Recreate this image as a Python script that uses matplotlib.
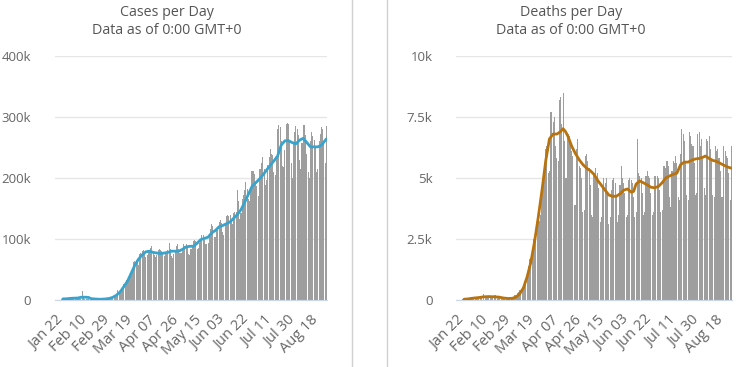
import matplotlib.pyplot as plt
from matplotlib.lines import Line2D
import numpy as np

plt.rcParams['font.family'] = ['Open Sans', 'DejaVu Sans']

# Dados diários (em milhares), 22 Jan a 31 Ago
casos = [
    0.55, 0.1, 0.28, 0.49, 0.68, 0.81, 2.65, 0.59, 2.07, 1.69,
    2.1, 2.6, 3.0, 3.9, 3.7, 3.2, 3.4, 2.7, 3.0, 2.5, 2.0, 0.4, 15.1, 6.5, 2.1, 2.1, 2.0, 1.9, 0.5,
    0.6, 1.0, 1.4, 0.4, 0.5, 0.9, 0.9, 1.1, 1.4, 1.8,
    2.3, 1.9, 2.5, 2.3, 2.8, 3.9, 4.0, 3.9, 3.9, 4.5, 7.5, 8.0, 16.0, 11.1, 13.6, 15.6, 17.5, 26.6,
    30.0, 33.0, 32.0, 34.0, 41.0, 43.0, 50.0, 62.0, 64.0, 65.0, 60.0, 58.0, 75.0,
    77, 80, 82, 79, 70, 73, 81, 82, 85, 88, 77, 73, 71, 73, 82, 84, 82, 81, 76, 72,
    76, 78, 82, 93, 84, 72, 69, 75, 78, 88,
    91, 83, 77, 77, 81, 92, 89, 91, 87, 75, 73, 84, 89, 96, 99, 96, 84, 86, 94, 100,
    106, 107, 98, 91, 91, 93, 105, 117, 124, 122, 104,
    104, 113, 120, 128, 131, 127, 111, 106, 125, 137, 139, 138, 140, 129, 124, 143, 144, 144, 180, 163,
    133, 142, 165, 172, 181, 193, 182, 166, 162, 178,
    212, 212, 206, 193, 187, 170, 214, 214, 225, 235, 215, 189, 197, 222, 234, 247, 240, 238, 210, 205,
    236, 280, 287, 284, 260, 220, 218, 246, 289, 290, 289,
    260, 225, 200, 255, 275, 285, 280, 270, 230, 215, 258, 287, 287, 270, 240, 210, 200, 260, 275, 268,
    262, 250, 210, 215, 260, 272, 283, 280, 255, 225, 285,
]

mortes = [
    0.017, 0.001, 0.008, 0.016, 0.014, 0.026, 0.049, 0.002, 0.038, 0.042,
    0.046, 0.103, 0.064, 0.066, 0.072, 0.07, 0.085, 0.087, 0.1, 0.107, 0.1, 0.005, 0.253, 0.152, 0.143,
    0.104, 0.098, 0.139, 0.115, 0.125, 0.004, 0.207, 0.011, 0.16, 0.079, 0.062, 0.044, 0.058, 0.067,
    0.057, 0.067, 0.072, 0.085, 0.08, 0.104, 0.099, 0.105, 0.22, 0.2, 0.28, 0.33, 0.41, 0.42, 0.54,
    0.62, 0.77, 0.85, 1.06, 1.38, 1.67, 1.73, 1.94, 2.48, 2.56, 2.84, 3.45, 3.6, 3.24, 3.5, 4.6,
    4.8, 5.3, 6.2, 6.3, 5.2, 5.3, 7.7, 7.7, 7.3, 7.5, 6.3, 5.8, 5.7, 8.2, 8.3, 7.2, 8.5, 6.5, 5.0, 5.0,
    6.8, 6.7, 6.3, 6.1, 5.9, 3.9, 3.9, 6.2, 6.6, 5.5,
    5.4, 5.0, 3.6, 3.7, 5.9, 6.0, 5.7, 5.4, 4.7, 3.5, 3.4, 5.2, 5.4, 5.0, 5.2, 4.6, 3.2, 3.4, 4.6, 5.0,
    4.8, 5.0, 4.3, 3.1, 3.4, 4.5, 4.9, 5.0, 4.8, 4.2, 3.2,
    3.5, 4.7, 5.5, 5.0, 4.8, 4.4, 3.4, 3.5, 4.9, 5.0, 4.9, 4.8, 4.2, 3.4, 3.6, 6.6, 5.2, 5.1, 5.0, 4.4,
    3.5, 3.6, 5.1, 5.3, 5.1, 5.0, 4.4, 3.5, 3.6, 5.1,
    5.1, 5.1, 5.0, 4.5, 3.6, 3.7, 5.5, 5.5, 5.4, 5.7, 5.5, 4.2, 3.8, 5.3, 5.7, 5.6, 5.9, 5.6, 4.2, 4.1,
    6.0, 7.0, 6.8, 6.5, 5.7, 4.3, 4.1, 6.9, 6.7, 6.4, 6.3,
    5.6, 4.3, 4.4, 6.8, 6.9, 6.3, 6.6, 5.9, 4.6, 4.3, 6.6, 6.5, 6.7, 6.2, 5.7, 4.3, 4.2, 6.3, 6.1, 6.2,
    5.8, 5.3, 4.2, 4.2, 6.3, 6.1, 5.9, 5.8, 5.2, 4.1, 6.3,
]

# Média móvel (índice do dia, valor em milhares)
casos_media_dias = [6, 9, 12, 15, 18, 21, 24, 27, 29, 32, 36, 40, 44, 47, 50, 53, 56, 59, 62, 65,
                    68, 71, 74, 77, 80, 83, 86, 89, 92, 95, 98, 101, 104, 107, 110, 113, 116, 119, 122,
                    125, 128, 131, 134, 137, 140, 143, 146, 149, 152, 155, 158, 161, 164, 167, 170, 173,
                    176, 179, 182, 185, 188, 191, 194, 197, 200, 203, 206, 209, 212, 215, 218, 222]
casos_media = [1.8, 2.0, 2.6, 3.0, 3.2, 4.5, 4.6, 4.2, 2.2, 1.7, 1.2, 1.5, 2.5, 4.5, 8, 13.5, 22, 31,
               44, 57, 67, 74, 79, 80, 78, 77, 76, 77, 78, 80, 80, 80, 83, 87, 88, 88, 93, 99, 101,
               103, 110, 114, 120, 122, 125, 128, 134, 140, 148, 160, 173, 186, 192, 198, 205, 213,
               221, 228, 236, 254, 261, 261, 258, 256, 262, 265, 258, 251, 251, 251, 254, 264]

mortes_media_dias = [6, 10, 14, 18, 22, 26, 30, 34, 38, 42, 45, 48, 51, 54, 57, 60, 63, 66, 69, 72,
                     75, 78, 81, 84, 86, 88, 90, 93, 96, 99, 102, 105, 108, 111, 114, 117, 120, 123,
                     126, 129, 132, 135, 138, 141, 143, 145, 148, 151, 154, 157, 160, 163, 166, 169,
                     172, 175, 178, 181, 184, 187, 190, 193, 196, 199, 201, 204, 207, 210, 213, 216,
                     219, 222]
mortes_media = [0.03, 0.05, 0.08, 0.1, 0.13, 0.14, 0.13, 0.12, 0.08, 0.06, 0.07, 0.12, 0.25, 0.5,
                0.95, 1.55, 2.4, 3.4, 4.5, 5.7, 6.6, 6.8, 6.8, 6.9, 7.02, 6.9, 6.7, 6.3, 6.0, 5.75,
                5.55, 5.4, 5.3, 5.15, 4.9, 4.7, 4.5, 4.3, 4.25, 4.25, 4.35, 4.5, 4.55, 4.42, 4.45,
                4.75, 4.88, 4.8, 4.72, 4.62, 4.6, 4.65, 4.8, 5.0, 5.08, 5.15, 5.2, 5.55, 5.65, 5.65,
                5.73, 5.78, 5.8, 5.85, 5.9, 5.8, 5.72, 5.68, 5.6, 5.52, 5.45, 5.4]

rotulos_x = ['Jan 22', 'Feb 10', 'Feb 29', 'Mar 19', 'Apr 07', 'Apr 26', 'May 15',
             'Jun 03', 'Jun 22', 'Jul 11', 'Jul 30', 'Aug 18']

casos_ticks = [0, 100, 200, 300, 400]
casos_rotulos = ['0', '100k', '200k', '300k', '400k']
mortes_ticks = [0, 2.5, 5, 7.5, 10]
mortes_rotulos = ['0', '2.5k', '5k', '7.5k', '10k']


def plot_painel(ax, valores, dias_media, media, cor, ticks, rotulos_y):
    n = len(valores)
    ax.bar(np.arange(n), valores, width=0.85, color='#9e9e9e', linewidth=0, zorder=2)
    ax.plot(dias_media, media, color=cor, linewidth=2.0, zorder=3, solid_capstyle='round')
    ax.set_xlim(-0.5, n - 0.5)
    ax.set_ylim(0, ticks[-1])
    ax.set_yticks(ticks)
    ax.set_yticklabels(rotulos_y)
    ax.set_xticks(np.arange(len(rotulos_x)) * 19)
    ax.set_xticklabels(rotulos_x, rotation=45, ha='right', rotation_mode='anchor')
    ax.grid(axis='y', color='#e6e6e6', linewidth=1, zorder=0)
    ax.set_axisbelow(True)
    for lado in ['top', 'right', 'left']:
        ax.spines[lado].set_visible(False)
    ax.spines['bottom'].set_color('#ccd6eb')
    ax.tick_params(axis='y', length=0, pad=17, labelsize=9.5, labelcolor='#666666')
    ax.tick_params(axis='x', length=0, pad=9, labelsize=10.5, labelcolor='#666666')


fig = plt.figure(figsize=(7.4, 3.67), dpi=100)
ax1 = fig.add_axes([0.0743, 0.1826, 0.3676, 0.6649])
ax2 = fig.add_axes([0.6162, 0.1826, 0.373, 0.6649])

plot_painel(ax1, casos, casos_media_dias, casos_media, '#3aa3cc', casos_ticks, casos_rotulos)
plot_painel(ax2, mortes, mortes_media_dias, mortes_media, '#b8720e', mortes_ticks, mortes_rotulos)

# Títulos
for xc, titulo in [(167, 'Cases per Day'), (571, 'Deaths per Day')]:
    fig.text(xc / 740, 1 - 13 / 367, titulo, ha='center', va='center', fontsize=10.3, color='#555555')
    fig.text(xc / 740, 1 - 30 / 367, 'Data as of 0:00 GMT+0', ha='center', va='center',
             fontsize=10.3, color='#555555')

# Linhas divisórias
for xp in [352, 387]:
    fig.add_artist(Line2D([xp / 740, xp / 740], [0, 1], color='#d0d0d0', linewidth=1))

plt.savefig('out.png', dpi=100)
